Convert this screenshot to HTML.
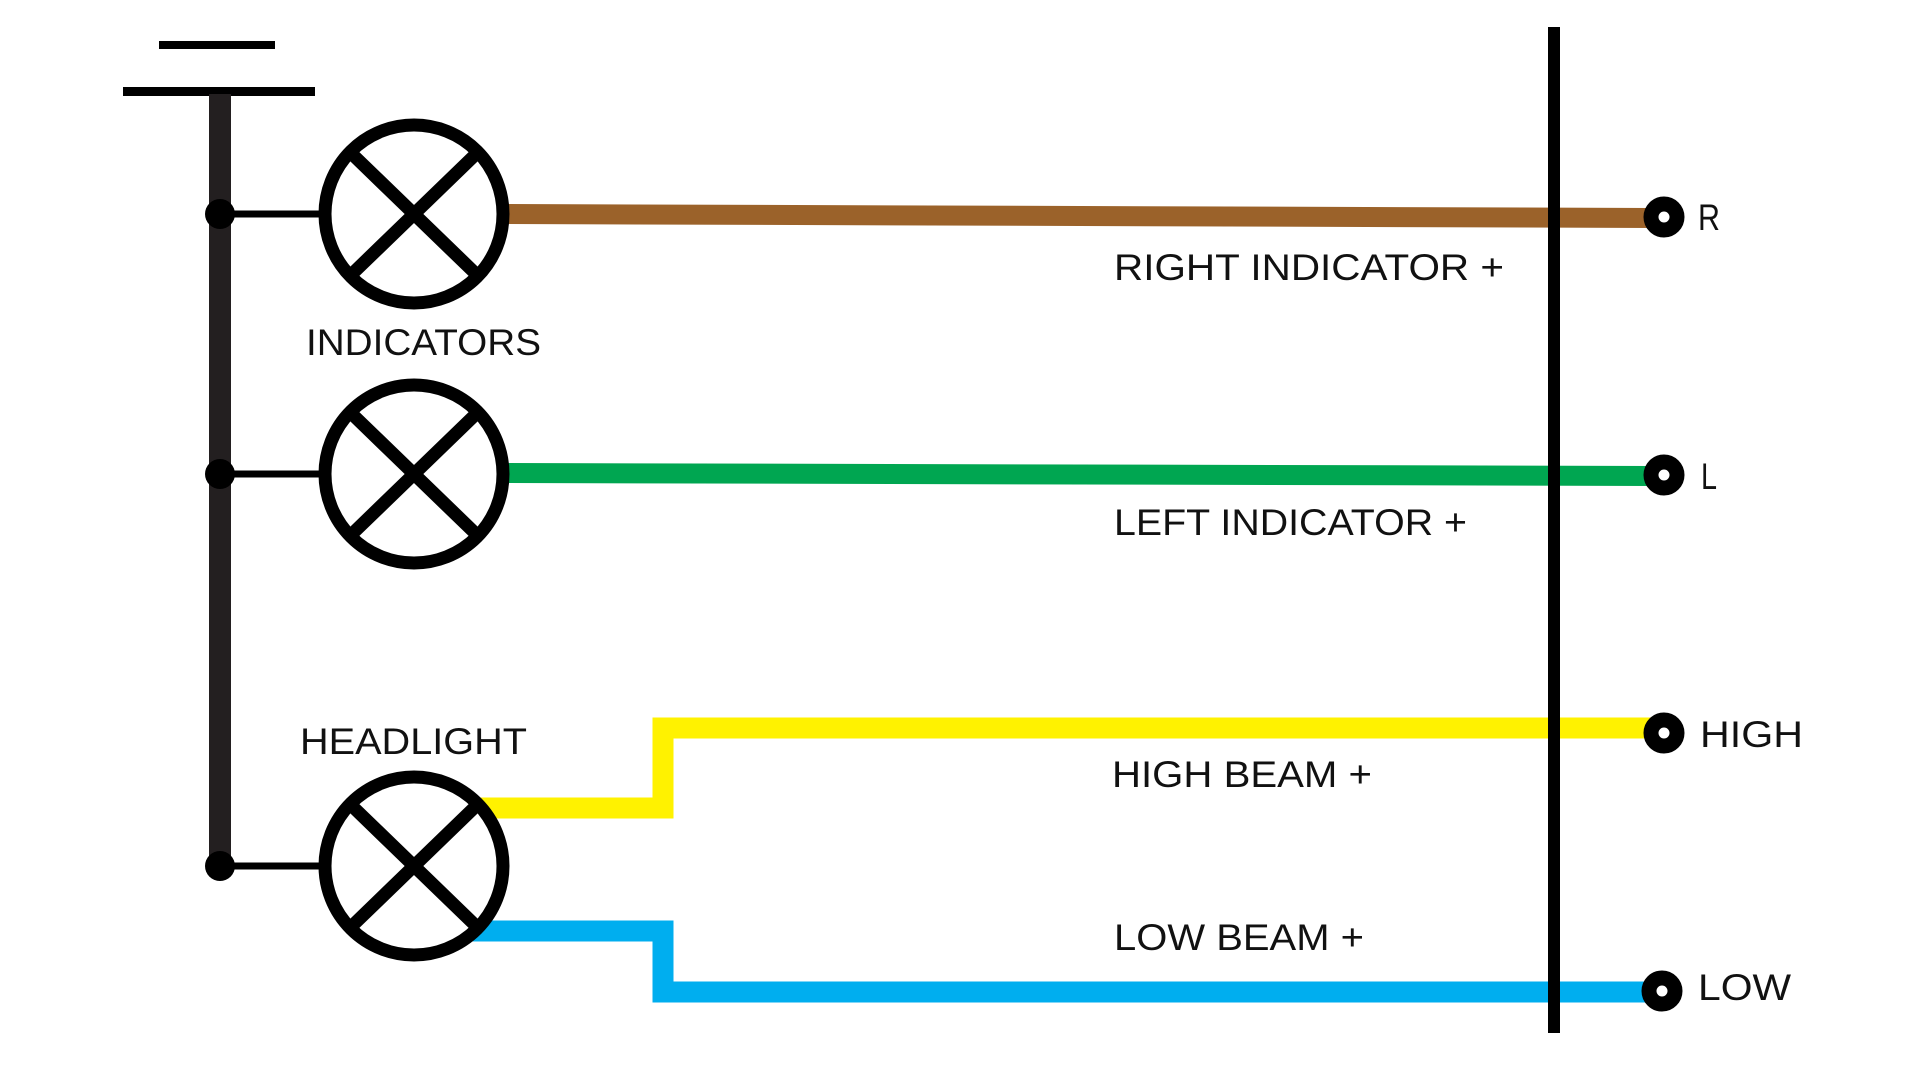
<!DOCTYPE html>
<html><head><meta charset="utf-8"><style>
html,body{margin:0;padding:0;background:#fff;width:1920px;height:1080px;overflow:hidden}
svg{display:block}
text{font-family:"Liberation Sans",sans-serif;font-size:37px;fill:#111}
</style></head><body>
<svg width="1920" height="1080" viewBox="0 0 1920 1080" xmlns="http://www.w3.org/2000/svg">
<!-- battery -->
<rect x="159" y="41" width="116" height="8" fill="#000"/>
<rect x="123" y="87" width="192" height="9" fill="#000"/>
<rect x="209" y="94" width="22" height="771" fill="#231f20"/>
<!-- junctions and stubs -->
<g fill="#000">
<ellipse cx="220" cy="214" rx="15" ry="15"/>
<ellipse cx="220" cy="474" rx="15" ry="15"/>
<ellipse cx="220" cy="866" rx="15" ry="15"/>
</g>
<g stroke="#000" stroke-width="7">
<line x1="225" y1="214" x2="326" y2="214"/>
<line x1="225" y1="474" x2="326" y2="474"/>
<line x1="225" y1="866" x2="326" y2="866"/>
</g>
<!-- wires -->
<polygon points="505,204 1664,208 1664,228 505,224" fill="#9b622a"/>
<polygon points="505,463 1664,466 1664,486 505,483" fill="#00a651"/>
<path d="M478 808 H663 V728 H1664" fill="none" stroke="#fff200" stroke-width="21"/>
<path d="M470 931 H663 V992 H1664" fill="none" stroke="#00aeef" stroke-width="21"/>
<!-- lamps -->
<g fill="#fff" stroke="#000" stroke-width="13">
<circle cx="414" cy="214" r="89"/>
<circle cx="414" cy="474" r="89"/>
<circle cx="414" cy="866" r="89"/>
</g>
<g stroke="#000" stroke-width="13">
<line x1="352" y1="154" x2="476" y2="274"/><line x1="476" y1="154" x2="352" y2="274"/>
<line x1="352" y1="414" x2="476" y2="534"/><line x1="476" y1="414" x2="352" y2="534"/>
<line x1="352" y1="806" x2="476" y2="926"/><line x1="476" y1="806" x2="352" y2="926"/>
</g>
<!-- right bar -->
<rect x="1555" y="27" width="12" height="1006" fill="#000" transform="translate(-7,0)"/>
<!-- terminals -->
<g fill="#fff" stroke="#000" stroke-width="15">
<circle cx="1664" cy="217" r="13"/>
<circle cx="1664" cy="475" r="13"/>
<circle cx="1664" cy="733" r="13"/>
<circle cx="1662" cy="991" r="13"/>
</g>
<!-- labels -->
<text x="306" y="355" textLength="235" lengthAdjust="spacingAndGlyphs">INDICATORS</text>
<text x="300" y="754" textLength="227" lengthAdjust="spacingAndGlyphs">HEADLIGHT</text>
<text x="1114" y="280" textLength="390" lengthAdjust="spacingAndGlyphs">RIGHT INDICATOR +</text>
<text x="1114" y="535" textLength="353" lengthAdjust="spacingAndGlyphs">LEFT INDICATOR +</text>
<text x="1112" y="787" textLength="260" lengthAdjust="spacingAndGlyphs">HIGH BEAM +</text>
<text x="1114" y="950" textLength="250" lengthAdjust="spacingAndGlyphs">LOW BEAM +</text>
<text x="1698" y="230" textLength="22" lengthAdjust="spacingAndGlyphs">R</text>
<text x="1701" y="489" textLength="16" lengthAdjust="spacingAndGlyphs">L</text>
<text x="1700" y="747" textLength="103" lengthAdjust="spacingAndGlyphs">HIGH</text>
<text x="1698" y="1000" textLength="93" lengthAdjust="spacingAndGlyphs">LOW</text>
</svg>
</body></html>
